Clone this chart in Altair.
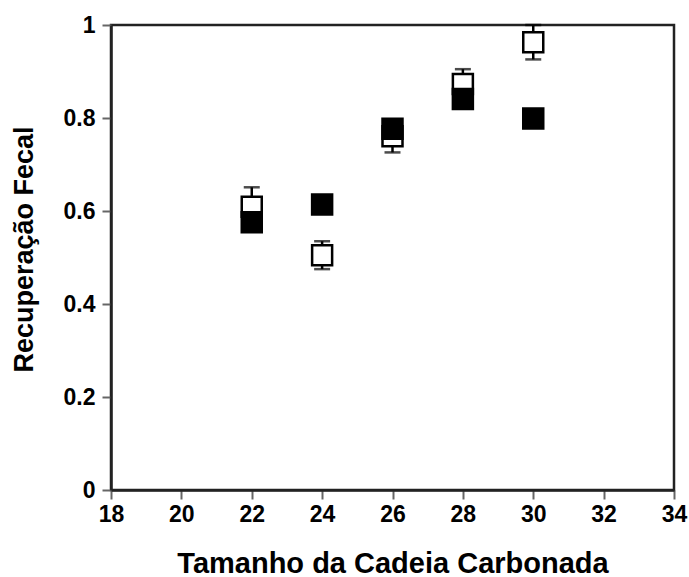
import altair as alt
import pandas as pd

# Carbon chain length and fecal recovery for the two series
chain_length = [22, 24, 26, 28, 30]
filled_recovery = [0.576, 0.614, 0.777, 0.841, 0.799]
open_recovery = [0.609, 0.505, 0.761, 0.873, 0.963]
open_error = [0.042, 0.030, 0.035, 0.032, 0.037]

x_ticks = [18, 20, 22, 24, 26, 28, 30, 32, 34]
y_ticks = [0, 0.2, 0.4, 0.6, 0.8, 1]

df = pd.DataFrame({
    "c": chain_length,
    "filled": filled_recovery,
    "open": open_recovery,
    "lo": [v - e for v, e in zip(open_recovery, open_error)],
    "hi": [v + e for v, e in zip(open_recovery, open_error)],
})

FONT = "Liberation Sans"

x_enc = alt.X(
    "c:Q",
    scale=alt.Scale(domain=[18, 34], nice=False),
    axis=alt.Axis(
        values=x_ticks, title="Tamanho da Cadeia Carbonada", grid=False,
        labelFont=FONT, labelFontSize=23, labelFontWeight="bold", labelColor="black",
        labelPadding=4, labelFlush=False, labelOverlap=False,
        tickSize=9, tickColor="#666", tickWidth=2,
        domainColor="#222", domainWidth=2.5,
        titleFont=FONT, titleFontSize=29, titleFontWeight="bold", titleColor="black",
        titleY=82, titleBaseline="alphabetic",
    ),
)
y_axis = alt.Axis(
    values=y_ticks, format="~g", title="Recuperação Fecal", grid=False,
    labelFont=FONT, labelFontSize=23, labelFontWeight="bold", labelColor="black",
    labelPadding=7, labelFlush=False, labelOverlap=False,
    tickSize=9, tickColor="#666", tickWidth=2,
    domainColor="#222", domainWidth=2.5,
    titleFont=FONT, titleFontSize=27, titleFontWeight="bold", titleColor="black",
    titleAngle=-90, titleX=-87, titleY=224, titleBaseline="middle", titleAlign="center",
)
y_scale = alt.Scale(domain=[0, 1], nice=False)

base = alt.Chart(df)

err_line = base.mark_rule(color="black", strokeWidth=2.5).encode(
    x=x_enc,
    y=alt.Y("lo:Q", scale=y_scale, axis=y_axis),
    y2="hi:Q",
)
cap_lo = base.mark_tick(color="black", orient="horizontal", size=16, thickness=2.5).encode(
    x="c:Q", y="lo:Q"
)
cap_hi = base.mark_tick(color="black", orient="horizontal", size=16, thickness=2.5).encode(
    x="c:Q", y="hi:Q"
)
open_pts = base.mark_point(
    shape="square", filled=True, fill="white", stroke="black", strokeWidth=2.5,
    size=400, opacity=1,
).encode(x="c:Q", y="open:Q")
filled_pts = base.mark_point(
    shape="square", filled=True, fill="black", stroke="black", strokeWidth=2.5,
    size=400, opacity=1,
).encode(x="c:Q", y="filled:Q")

chart = (
    alt.layer(err_line, cap_lo, cap_hi, open_pts, filled_pts)
    .properties(
        width=563, height=465,
        autosize=alt.AutoSizeParams(type="none"),
        padding={"left": 111, "top": 25, "right": 15, "bottom": 87},
        background="white",
    )
    .configure_view(stroke="#222", strokeWidth=2.5)
)

chart.save("out.html", embed_options={"renderer": "svg", "actions": False})
